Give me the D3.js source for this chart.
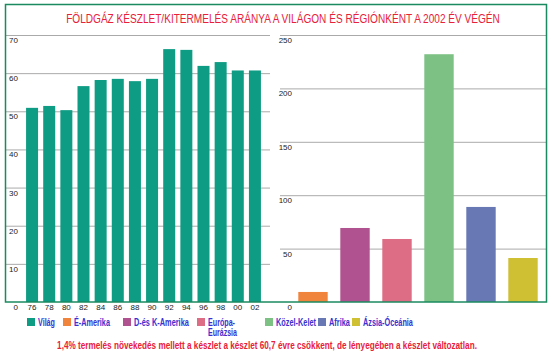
<!DOCTYPE html>
<html><head><meta charset="utf-8">
<script src="https://cdn.jsdelivr.net/npm/d3@7"></script>
<style>body{margin:0;background:#fff}svg{display:block}text{font-family:"Liberation Sans",Arial,sans-serif}</style>
</head><body>
<script>
const title = "FÖLDGÁZ KÉSZLET/KITERMELÉS ARÁNYA A VILÁGON ÉS RÉGIÓNKÉNT A 2002 ÉV VÉGÉN";
const footer = "1,4% termelés növekedés mellett a készlet a készlet 60,7 évre csökkent, de lényegében a készlet változatlan.";
const years = ["76","78","80","82","84","86","88","90","92","94","96","98","00","02"];
const worldValues = [50.9,51.4,50.3,56.6,58.2,58.5,57.9,58.5,66.3,66.1,61.9,62.9,60.7,60.7];
const leftTicks = [0,10,20,30,40,50,60,70];
const regions = ["É-Amerika","D-és K-Amerika","Európa-Eurázsia","Közel-Kelet","Afrika","Ázsia-Óceánia"];
const regionValues = [9.4,69.3,59.0,232.0,89.0,41.2];
const rightTicks = [0,50,100,150,200,250];
const legendNames = ["Világ","É-Amerika","D-és K-Amerika","Európa-|Eurázsia","Közel-Kelet","Afrika","Ázsia-Óceánia"];
const colors = ["#0e9c84","#f0843c","#b0528f","#dc6d84","#7dc184","#6878b4","#cfbf33"];

const W=553,H=363;
const svg=d3.select("body").append("svg").attr("width",W).attr("height",H);

// draw text at (x,y) horizontally condensed to a target width
function condensed(parent,x,y,str,fs,target,anchor,attrs){
  const g=parent.append("g");
  const t=g.append("text").attr("font-size",fs).attr("text-anchor",anchor).text(str);
  Object.entries(attrs||{}).forEach(([k,v])=>t.attr(k,v));
  const w=t.node().getComputedTextLength();
  const s=w>0?Math.min(1,target/w):1;
  g.attr("transform",`translate(${x},${y}) scale(${s},1)`);
  return g;
}

// title
condensed(svg,283,23,title,13,434,"middle",{fill:"#e8203a"});

// left chart
const yL=d3.scaleLinear().domain([0,70]).range([302,35]);
const xL=d3.scaleBand().domain(years).range([23.5,263.5]).paddingInner(0.3).paddingOuter(0.15);
const gL=svg.append("g");
gL.selectAll("line.g").data(leftTicks.filter(d=>d>0)).join("line")
  .attr("x1",5).attr("x2",270).attr("y1",d=>yL(d)+0.5).attr("y2",d=>yL(d)+0.5).attr("stroke","#aaa");
gL.selectAll("text.t").data(leftTicks).join("text")
  .attr("x",18).attr("y",d=>yL(d)+8).attr("text-anchor","end").attr("font-size",8).attr("fill","#222").text(d=>d);
gL.selectAll("rect").data(worldValues).join("rect")
  .attr("x",(d,i)=>xL(years[i])).attr("width",xL.bandwidth())
  .attr("y",d=>yL(d)).attr("height",d=>yL(0)-yL(d)).attr("fill",colors[0]);
gL.selectAll("text.x").data(years).join("text")
  .attr("x",d=>xL(d)+xL.bandwidth()/2).attr("y",310).attr("text-anchor","middle").attr("font-size",8).attr("fill","#222").text(d=>d);

// right chart
const yR=d3.scaleLinear().domain([0,250]).range([302,35]);
const xR=d3.scaleBand().domain(regions).range([292,544]).paddingInner(0.3).paddingOuter(0.15);
const gR=svg.append("g");
gR.selectAll("line").data(rightTicks.filter(d=>d>0)).join("line")
  .attr("x1",280).attr("x2",547).attr("y1",d=>yR(d)+0.5).attr("y2",d=>yR(d)+0.5).attr("stroke","#aaa");
gR.selectAll("text").data(rightTicks).join("text")
  .attr("x",292).attr("y",d=>yR(d)+8).attr("text-anchor","end").attr("font-size",8).attr("fill","#222").text(d=>d);
gR.selectAll("rect").data(regionValues).join("rect")
  .attr("x",(d,i)=>xR(regions[i])).attr("width",xR.bandwidth())
  .attr("y",d=>yR(d)).attr("height",d=>yR(0)-yR(d)).attr("fill",(d,i)=>colors[i+1]);

// frame
svg.append("rect").attr("x",5.5).attr("y",4.5).attr("width",541).attr("height",297.5)
  .attr("fill","none").attr("stroke","#1b8a60").attr("stroke-width",1.5);

// legend
const legX=[27,63,123,197,265,318,352];
const legW=[[17],[36],[55],[27,29],[40],[21],[50]];
const lg=svg.append("g");
legendNames.forEach((n,i)=>{
  lg.append("rect").attr("x",legX[i]).attr("y",318).attr("width",8).attr("height",8).attr("fill",colors[i]);
  n.split("|").forEach((p,j)=>condensed(lg,legX[i]+11,326+j*10,p,10,legW[i][j],"start",{fill:"#3a2fd0","font-weight":"bold"}));
});

condensed(svg,267,349,footer,10.5,420,"middle",{fill:"#e8203a","font-weight":"bold"});
</script>
</body></html>
